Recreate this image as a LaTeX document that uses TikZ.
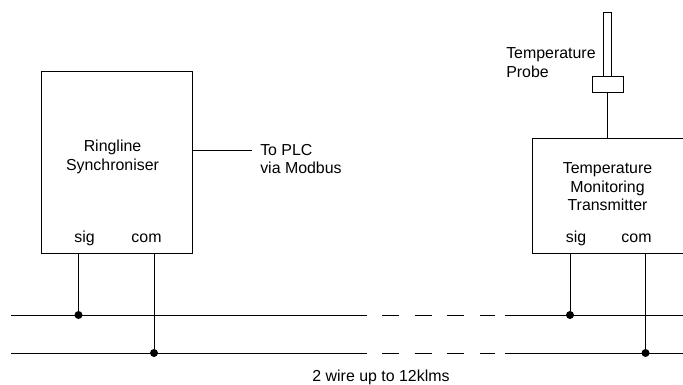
\documentclass[tikz,border=0pt]{standalone}
\usepackage{fontspec}
\setmainfont{Liberation Sans}
\usetikzlibrary{positioning}
\tikzset{
  unit/.style={draw=black,line width=0.6pt,inner sep=0pt},
  wire/.style={black,line width=0.6pt},
  gapline/.style={wire,dash pattern=on 17\ux off 15.5\ux},
  dot/.style={circle,fill=black,inner sep=0pt,minimum size=8\ux},
  lbl/.style={font=\fontsize{12}{14}\selectfont,align=center,inner sep=0pt},
  lblleft/.style={lbl,align=left,anchor=west},
  pin/.style={lbl,anchor=base}
}
\newlength{\ux}
\setlength{\ux}{0.0265cm}
\begin{document}
\begin{tikzpicture}[x=\ux,y=-\ux]
  \useasboundingbox (0,0) rectangle (683,385);
  % Ringline unit
  \node[unit,minimum width=151\ux,minimum height=182\ux] (sync) at (116.5,162) {};
  \node[lbl] (synctext) at (112.5,157) {Ringline\\Synchroniser};
  \node[pin] (syncsig) at (84.5,242) {sig};
  \node[pin] (synccom) at (146.5,242) {com};
  % Transmitter unit (box runs off the right edge)
  \node[unit,minimum width=160\ux,minimum height=115\ux] (trans) at (612,195.5) {};
  \node[lbl] (transtext) at (607.5,187) {Temperature\\Monitoring\\Transmitter};
  \node[pin] (transsig) at (576,242) {sig};
  \node[pin] (transcom) at (636.5,242) {com};
  % Probe
  \node[unit,minimum width=8.5\ux,minimum height=64\ux] (stem) at (607.5,44) {};
  \node[unit,minimum width=31\ux,minimum height=16\ux] (collar) at (607.5,84) {};
  \node[lblleft] (probetext) at (506,62.5) {Temperature\\Probe};
  \coordinate (probewire) at (607.5,92);
  \draw[wire] (collar.south) -- (probewire |- trans.north);
  % Modbus output
  \coordinate (plcend) at (252,150);
  \node[lblleft] (plctext) at (260,159) {To PLC\\via Modbus};
  \draw[wire] (sync.east |- plcend) -- (plcend);
  % Bus lines, with a broken middle section
  \foreach \busy/\busname in {315/siga,353/coma}{
    \coordinate (\busname1) at (11,\busy);
    \coordinate (\busname2) at (367,\busy);
    \coordinate (\busname3) at (382,\busy);
    \coordinate (\busname4) at (495,\busy);
    \coordinate (\busname5) at (505,\busy);
    \coordinate (\busname6) at (683,\busy);
    \draw[wire] (\busname1) -- (\busname2);
    \draw[gapline] (\busname3) -- (\busname4);
    \draw[wire] (\busname5) -- (\busname6);
  }
  % Taps
  \node[dot] (tapa) at (78.5,315) {};
  \node[dot] (tapb) at (154,353) {};
  \node[dot] (tapc) at (570,315) {};
  \node[dot] (tapd) at (645.5,353) {};
  \draw[wire] (sync.south -| tapa) -- (tapa);
  \draw[wire] (sync.south -| tapb) -- (tapb);
  \draw[wire] (trans.south -| tapc) -- (tapc);
  \draw[wire] (trans.south -| tapd) -- (tapd);
  \node[lbl] (buslabel) at (381,377) {2 wire up to 12klms};
\end{tikzpicture}
\end{document}
